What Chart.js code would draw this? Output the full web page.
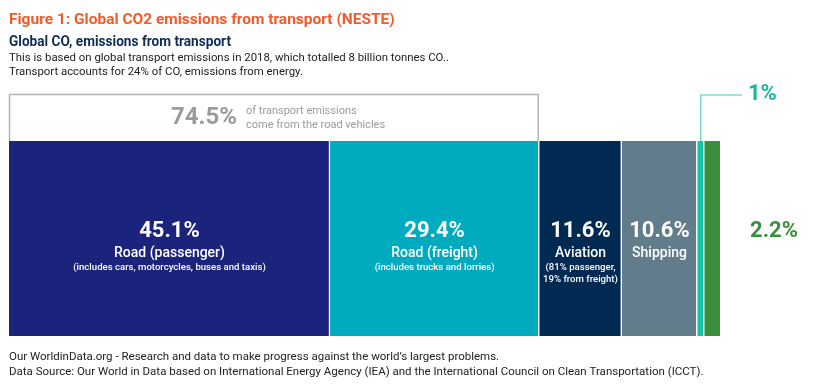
<!DOCTYPE html>
<html>
<head>
<meta charset="utf-8">
<script src="https://cdn.jsdelivr.net/npm/chart.js@4/dist/chart.umd.min.js"></script>
<style>
  html, body { margin: 0; padding: 0; background: #fff; }
  #wrap { width: 830px; height: 384px; position: relative; }
</style>
</head>
<body>
<div id="wrap"><canvas id="transportChart"></canvas></div>
<script>
"use strict";

// Data
const categories = ['Road (passenger)', 'Road (freight)', 'Aviation', 'Shipping', 'Rail', 'Other'];
const shares = [45.1, 29.4, 11.6, 10.6, 1, 2.2];
const shareLabels = ['45.1%', '29.4%', '11.6%', '10.6%', '1%', '2.2%'];
const notes = [
    ['(includes cars, motorcycles, buses and taxis)'],
    ['(includes trucks and lorries)'],
    ['(81% passenger,', '19% from freight)'],
    [],
    [],
    []
];
const roadShare = 74.5;
const colors = ['#1c237c', '#00abbf', '#002a52', '#617c8a', '#19c1a7', '#3a8e3e'];

const total = shares.reduce((a, b) => a + b, 0);

var TransportChart = function () {
    var FONT = 'Roboto, "Liberation Sans", sans-serif';

    var text = function (ctx, str, x, y, opts) {
        ctx.save();
        ctx.font = opts.font;
        ctx.fillStyle = opts.color;
        ctx.textAlign = opts.align || 'left';
        ctx.textBaseline = 'middle';
        if (opts.maxWidth) {
            ctx.fillText(str, x, y, opts.maxWidth);
        } else {
            ctx.fillText(str, x, y);
        }
        ctx.restore();
    };

    // draws titles, annotations and segment labels around the bar
    var annotations = {
        id: 'annotations',
        afterDraw: function (chart) {
            var ctx = chart.ctx;
            var xs = chart.scales.x;
            var area = chart.chartArea;

            // header
            text(ctx, 'Figure 1: Global CO2 emissions from transport (NESTE)', 9, 20,
                { font: 'bold 15.5px ' + FONT, color: '#f15a29', maxWidth: 388 });
            text(ctx, 'Global CO, emissions from transport', 9, 42,
                { font: 'bold 14px ' + FONT, color: '#0e2c55', maxWidth: 222 });
            text(ctx, 'This is based on global transport emissions in 2018, which totalled 8 billion tonnes CO..', 9, 58,
                { font: '11.4px ' + FONT, color: '#222', maxWidth: 442 });
            text(ctx, 'Transport accounts for 24% of CO, emissions from energy.', 9, 72,
                { font: '11.4px ' + FONT, color: '#222', maxWidth: 302 });

            // road vehicles box
            var boxRight = xs.getPixelForValue(roadShare);
            ctx.save();
            ctx.strokeStyle = '#b4b4b4';
            ctx.lineWidth = 1.5;
            ctx.beginPath();
            ctx.moveTo(area.left + 0.5, area.top);
            ctx.lineTo(area.left + 0.5, 94.5);
            ctx.lineTo(boxRight - 1, 94.5);
            ctx.lineTo(boxRight - 1, area.top);
            ctx.stroke();
            ctx.restore();
            text(ctx, roadShare + '%', 237, 118,
                { font: 'bold 24px ' + FONT, color: '#9b9b9b', align: 'right' });
            text(ctx, 'of transport emissions', 246, 111,
                { font: '11px ' + FONT, color: '#9b9b9b' });
            text(ctx, 'come from the road vehicles', 246, 125,
                { font: '11px ' + FONT, color: '#9b9b9b' });

            // labels inside the big segments
            var start = 0;
            shares.forEach(function (v, i) {
                var cx = xs.getPixelForValue(start + v / 2);
                start += v;
                if (i > 3) {
                    return;
                }
                text(ctx, shareLabels[i], cx, 231,
                    { font: 'bold 22px ' + FONT, color: '#fff', align: 'center' });
                text(ctx, categories[i], cx, 253,
                    { font: '500 14px ' + FONT, color: '#fff', align: 'center' });
                notes[i].forEach(function (line, j) {
                    text(ctx, line, cx, 268 + j * 12,
                        { font: '500 9.6px ' + FONT, color: '#fff', align: 'center', maxWidth: 200 });
                });
            });

            // 1% leader line
            var railX = xs.getPixelForValue(shares.slice(0, 4).reduce((a, b) => a + b, 0) + shares[4] / 2);
            ctx.save();
            ctx.strokeStyle = '#7fdccd';
            ctx.lineWidth = 1.5;
            ctx.beginPath();
            ctx.moveTo(railX, area.top);
            ctx.lineTo(railX, 95);
            ctx.lineTo(742, 95);
            ctx.stroke();
            ctx.restore();
            text(ctx, shareLabels[4], 748, 94,
                { font: 'bold 22px ' + FONT, color: '#1bb99f' });
            text(ctx, shareLabels[5], 774, 231,
                { font: 'bold 22px ' + FONT, color: '#3a8e3e', align: 'center' });

            // footer
            text(ctx, 'Our WorldinData.org - Research and data to make progress against the world\u2019s largest problems.', 9, 357,
                { font: '11.5px ' + FONT, color: '#222', maxWidth: 520 });
            text(ctx, 'Data Source: Our World in Data based on International Energy Agency (IEA) and the International Council on Clean Transportation (ICCT).', 9, 372,
                { font: '11.5px ' + FONT, color: '#222', maxWidth: 697 });
        }
    };

    var initChart = function () {
        var element = document.getElementById('transportChart');

        var datasets = categories.map(function (name, i) {
            return {
                label: name,
                data: [shares[i]],
                backgroundColor: colors[i],
                borderColor: '#ffffff',
                borderWidth: { top: 0, bottom: 0, left: 0, right: i < categories.length - 1 ? 1.5 : 0 },
                borderSkipped: false,
                barPercentage: 1,
                categoryPercentage: 1
            };
        });

        var config = {
            type: 'bar',
            data: {
                labels: ['Transport'],
                datasets: datasets
            },
            options: {
                indexAxis: 'y',
                responsive: true,
                maintainAspectRatio: false,
                animation: false,
                layout: {
                    padding: { left: 9, right: 110, top: 141, bottom: 48 }
                },
                scales: {
                    x: { stacked: true, min: 0, max: total, display: false },
                    y: { stacked: true, display: false }
                },
                plugins: {
                    legend: { display: false },
                    tooltip: { enabled: false }
                }
            },
            plugins: [annotations]
        };

        new Chart(element.getContext('2d'), config);
    };

    return {
        init: function () {
            initChart();
        }
    };
}();

document.addEventListener('DOMContentLoaded', function () {
    TransportChart.init();
});
</script>
</body>
</html>
